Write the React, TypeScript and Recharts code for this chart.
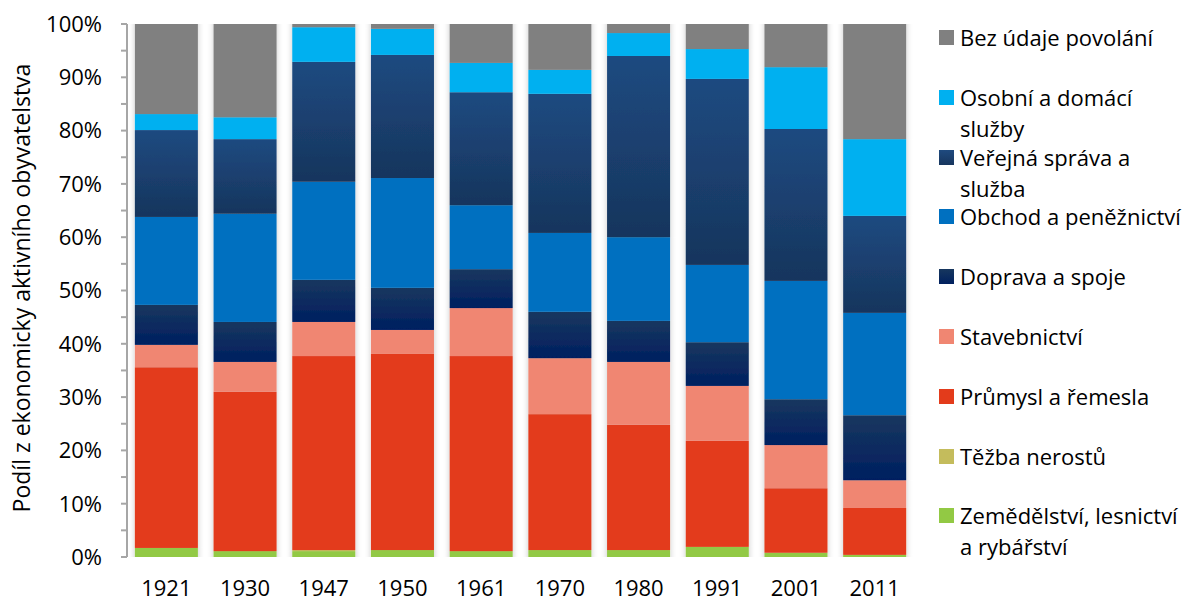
import React from "react";
import { BarChart, Bar, XAxis, YAxis } from "recharts";

const years = ["1921", "1930", "1947", "1950", "1961", "1970", "1980", "1991", "2001", "2011"];

// podíly v %
const zemedelstvi = [1.7, 1.1, 1.1, 1.3, 1.1, 1.3, 1.3, 1.9, 0.8, 0.4];
const tezba = [0, 0, 0.2, 0, 0, 0, 0, 0, 0, 0];
const prumysl = [33.9, 29.9, 36.4, 36.8, 36.6, 25.5, 23.5, 19.9, 12.1, 8.8];
const stavebnictvi = [4.2, 5.6, 6.4, 4.5, 9.0, 10.5, 11.8, 10.3, 8.1, 5.2];
const doprava = [7.5, 7.5, 7.9, 7.9, 7.3, 8.7, 7.7, 8.2, 8.6, 12.2];
const obchod = [16.5, 20.3, 18.4, 20.6, 12.0, 14.8, 15.7, 14.5, 22.2, 19.2];
const verejna = [16.3, 14.0, 22.5, 23.1, 21.2, 26.1, 34.0, 34.9, 28.5, 18.2];
const osobni = [3.0, 4.1, 6.5, 4.9, 5.5, 4.5, 4.3, 5.6, 11.6, 14.4];
const bezUdaje = [16.9, 17.5, 0.6, 0.9, 7.3, 8.6, 1.7, 4.7, 8.1, 21.6];

const yTicks = [0, 0.05, 0.1, 0.15, 0.2, 0.25, 0.3, 0.35, 0.4, 0.45, 0.5, 0.55, 0.6, 0.65, 0.7, 0.75, 0.8, 0.85, 0.9, 0.95, 1];

// stack order bottom -> top
const SERIES = [
  { key: "zem", label: "Zemědělství, lesnictví|a rybářství", fill: "#92C944", values: zemedelstvi },
  { key: "tez", label: "Těžba nerostů", fill: "#C4BC5C", values: tezba },
  { key: "pru", label: "Průmysl a řemesla", fill: "#E33B1B", values: prumysl },
  { key: "sta", label: "Stavebnictví", fill: "#F08672", values: stavebnictvi },
  { key: "dop", label: "Doprava a spoje", fill: "url(#gradDoprava)", values: doprava },
  { key: "obc", label: "Obchod a peněžnictví", fill: "#0070C0", values: obchod },
  { key: "ver", label: "Veřejná správa a|služba", fill: "url(#gradVerejna)", values: verejna },
  { key: "oso", label: "Osobní a domácí|služby", fill: "#00B0F0", values: osobni },
  { key: "bez", label: "Bez údaje povolání", fill: "#808080", values: bezUdaje },
];

const data = years.map((year, i) => {
  const row: Record<string, string | number> = { year };
  SERIES.forEach((s) => {
    row[s.key] = s.values[i];
  });
  return row;
});

const FONT = "'Open Sans', 'DejaVu Sans', sans-serif";

const ShadowRect = (p: any) => {
  if (!p.height || p.height <= 0) return <g />;
  return (
    <rect x={p.x} y={p.y} width={p.width} height={p.height} fill={p.fill} filter="url(#barShadow)" />
  );
};

function LegendBox() {
  const items = [...SERIES].reverse();
  return (
    <div style={{ position: "absolute", left: 931, top: 14, fontFamily: FONT, fontSize: 22, color: "#000" }}>
      {items.map((s) => {
        const lines = s.label.split("|");
        const markerBg =
          s.key === "ver"
            ? "linear-gradient(#1F4A7F, #17365E)"
            : s.key === "dop"
            ? "linear-gradient(#17375E, #00205F)"
            : s.fill;
        return (
          <div key={s.key} style={{ height: 59.8, position: "relative" }}>
            <div
              style={{
                position: "absolute",
                left: 0,
                top: 8,
                width: 15,
                height: 15,
                background: markerBg,
              }}
            />
            <div style={{ position: "absolute", left: 21, top: 0, lineHeight: "30px", whiteSpace: "nowrap" }}>
              {lines.map((l, i) => (
                <div key={i} style={{ height: i === 0 ? 31 : 29 }}>{l}</div>
              ))}
            </div>
          </div>
        );
      })}
    </div>
  );
}

export default function App() {
  return (
    <div style={{ position: "relative", width: 1186, height: 593, fontFamily: FONT }}>
      <BarChart
        width={1186}
        height={593}
        data={data}
        stackOffset="expand"
        barCategoryGap="10%"
        margin={{ top: 16, right: 280, left: 29, bottom: 0 }}
      >
        <defs>
          <linearGradient id="gradVerejna" x1="0" y1="0" x2="0" y2="1">
            <stop offset="0%" stopColor="#1F4A80" />
            <stop offset="100%" stopColor="#16355D" />
          </linearGradient>
          <linearGradient id="gradDoprava" x1="0" y1="0" x2="0" y2="1">
            <stop offset="0%" stopColor="#18375F" />
            <stop offset="100%" stopColor="#001F60" />
          </linearGradient>
          <filter id="barShadow" filterUnits="userSpaceOnUse" x="0" y="0" width="1186" height="593">
            <feGaussianBlur in="SourceAlpha" stdDeviation="3 0" result="blur" />
            <feComponentTransfer in="blur" result="soft">
              <feFuncA type="linear" slope="0.22" />
            </feComponentTransfer>
            <feMerge>
              <feMergeNode in="soft" />
              <feMergeNode in="SourceGraphic" />
            </feMerge>
          </filter>
        </defs>
        <XAxis
          dataKey="year"
          axisLine={false}
          tickLine={false}
          tickMargin={17}
          height={44}
          tick={{ fontSize: 22, fill: "#000", fontFamily: FONT }}
        />
        <YAxis
          width={90}
          domain={[0, 1]}
          ticks={yTicks}
          interval={0}
          tickSize={6}
          tickMargin={19}
          axisLine={{ stroke: "#A6A6A6", strokeWidth: 2 }}
          tickLine={{ stroke: "#A6A6A6", strokeWidth: 2 }}
          tickFormatter={(v: number) => (Math.round(v * 100) % 10 === 0 ? `${Math.round(v * 100)}%` : "")}
          tick={{ fontSize: 22, fill: "#000", fontFamily: FONT }}
        />
        {SERIES.map((s) => (
          <Bar
            key={s.key}
            dataKey={s.key}
            name={s.label}
            stackId="a"
            fill={s.fill}
            shape={ShadowRect}
            isAnimationActive={false}
          />
        ))}
      </BarChart>
      <LegendBox />
      <div
        style={{
          position: "absolute",
          left: 13,
          top: 280,
          transform: "translate(-50%, -50%) rotate(-90deg)",
          whiteSpace: "nowrap",
          fontSize: 23,
          color: "#000",
          fontFamily: FONT,
        }}
      >
        Podíl z ekonomicky aktivního obyvatelstva
      </div>
    </div>
  );
}
